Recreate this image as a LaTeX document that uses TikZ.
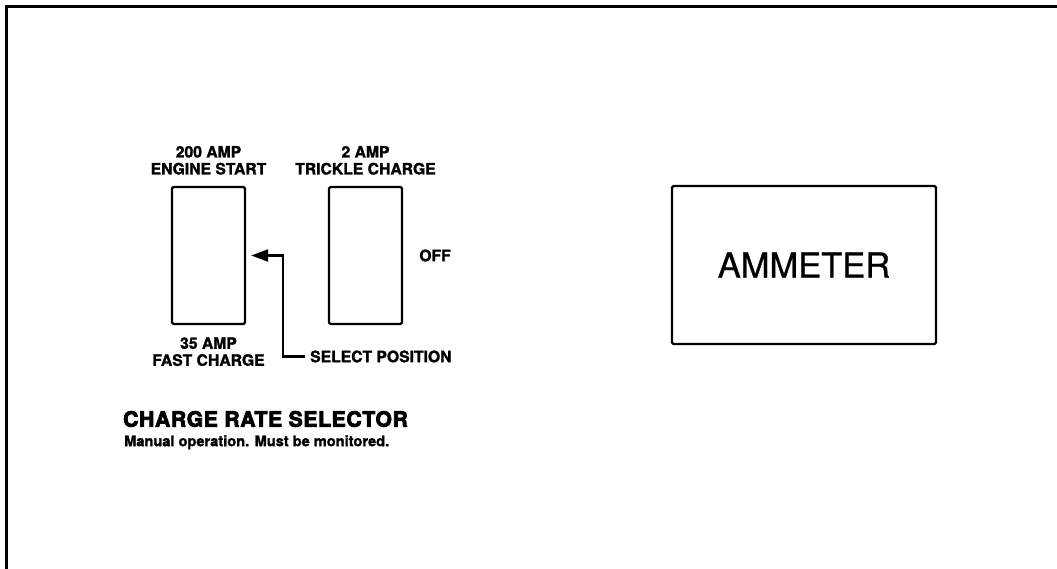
\documentclass[tikz,border=0pt]{standalone}
\usepackage{fontspec}
\setmainfont{TeX Gyre Heros}[FakeBold=0.8]
\newfontfamily\labelfont{texgyreheros-bold.otf}[FakeBold=1.5]
\newfontfamily\heavyfont{texgyreheros-bold.otf}[FakeBold=4,LetterSpace=3.5]
\usetikzlibrary{positioning,arrows.meta}

\begin{document}
\begin{tikzpicture}[x=1pt,y=1pt,node distance=8pt,
  switchbox/.style={draw, line width=2.3pt, rounded corners=1.5pt, minimum width=73pt, minimum height=137pt, inner sep=0pt},
  poslabel/.style={font=\labelfont\fontsize{15.7}{17}\selectfont, align=center, inner sep=0pt},
  selarrow/.style={-{Triangle[length=17pt,width=12pt]}, line width=2.2pt}]
\useasboundingbox (0,0) rectangle (1057,569);
% Panel frame, top and left edges
\draw[line width=3pt] (6.3,0) -- (6.3,562.5) -- (1057,562.5);

% Switches and meter
\node[switchbox] (engine) at (208.5,313.5) {};
\node[switchbox] (trickle) at (365.5,313.5) {};
\node[draw, line width=2.3pt, rounded corners=1.5pt, minimum width=264pt, minimum height=158pt, font=\fontsize{34.5}{40}\selectfont] (ammeter) at (804,304) {AMMETER};

% Position labels
\node[poslabel, above=11pt of engine] (startlbl) {200 AMP\\ENGINE START};
\node[poslabel, above=11pt of trickle] (tricklelbl) {2 AMP\\TRICKLE CHARGE};
\node[poslabel, below=12pt of engine] (fastlbl) {35 AMP\\FAST CHARGE};
\node[poslabel, right=16pt of trickle] (offlbl) {OFF};
\node[poslabel, anchor=west] (selpos) at (310,212.5) {SELECT POSITION};

% Selector caption
\node[font=\heavyfont\fontsize{21}{24}\selectfont, anchor=west, inner sep=0pt] (title) at (123,150) {CHARGE RATE SELECTOR};
\node[font=\labelfont\fontsize{14.6}{17}\selectfont, inner sep=0pt, below right=8pt and 1pt of title.south west] (note) {Manual operation. Must be monitored.};

% Arrow
\coordinate (bend) at (283,313.5);
\draw[selarrow, shorten <=5pt, shorten >=5pt] (selpos.west) -| (bend) -- (engine.east);
\end{tikzpicture}
\end{document}
